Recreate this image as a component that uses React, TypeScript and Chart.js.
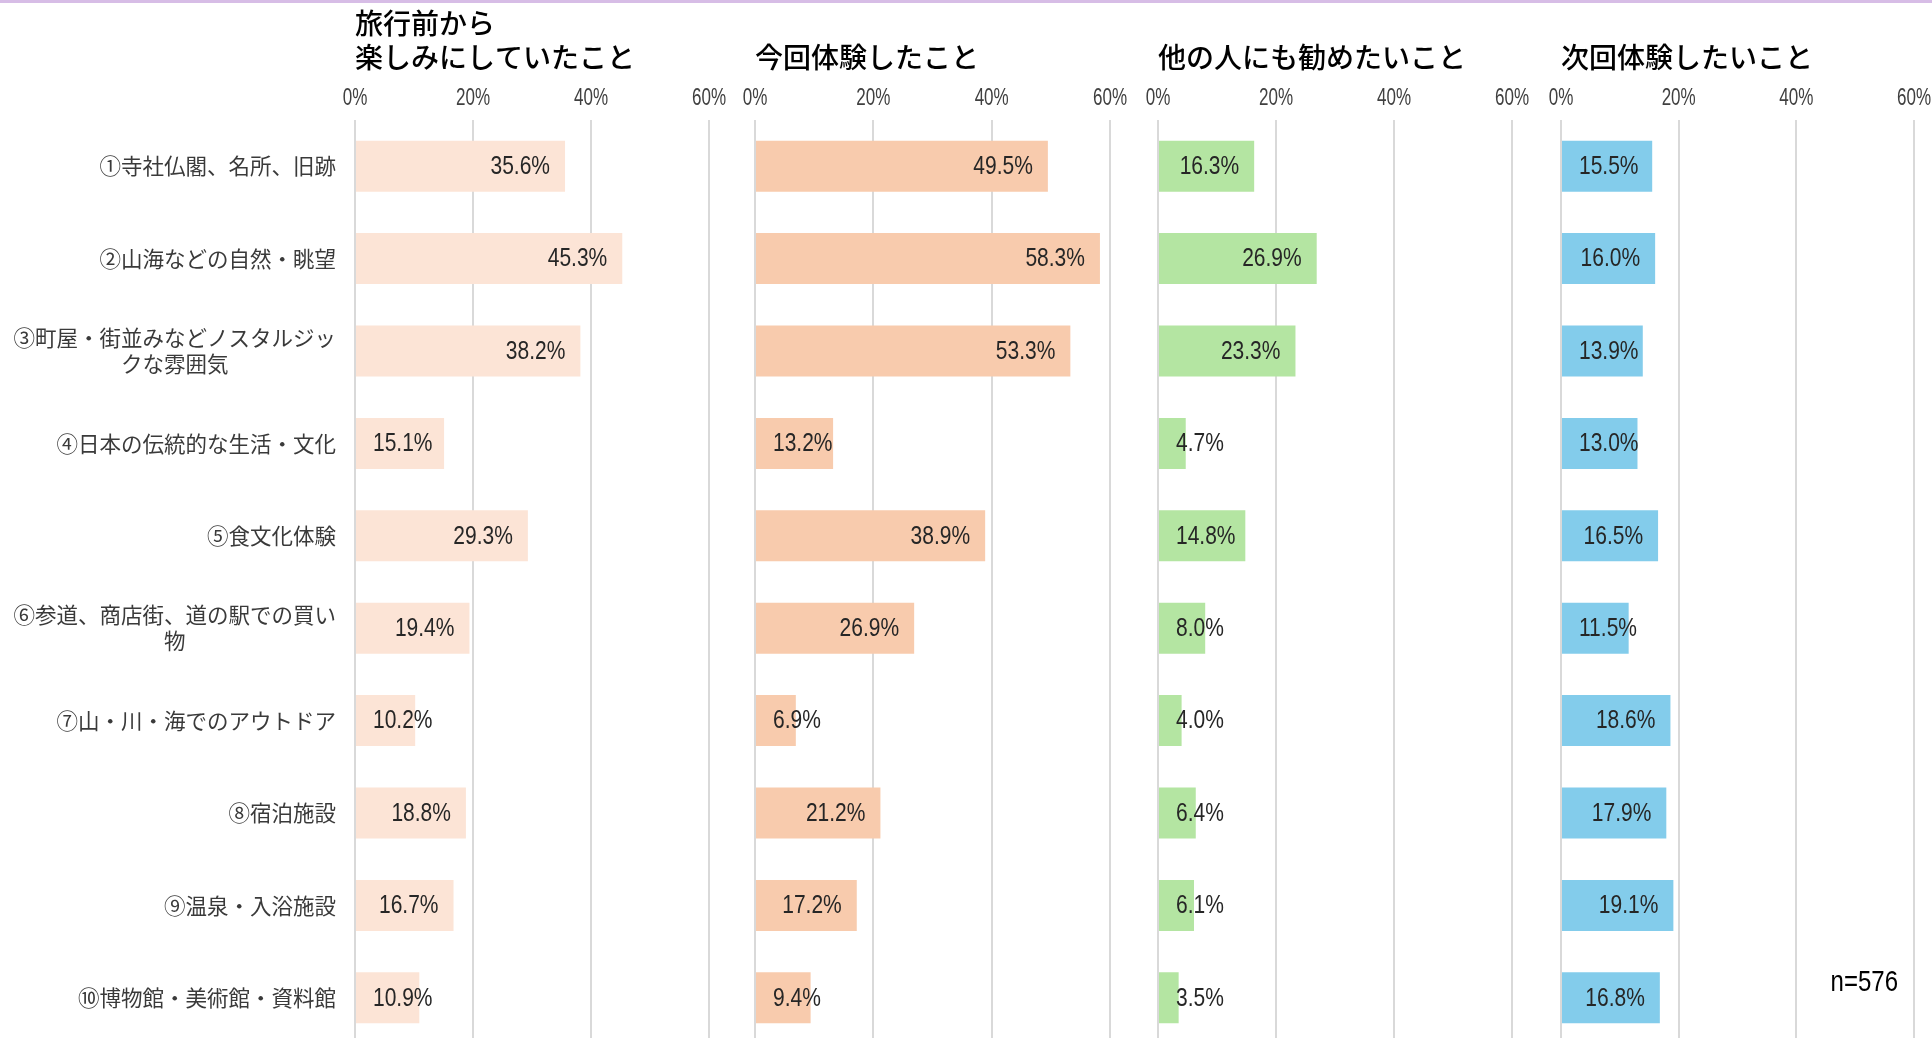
import React, { useEffect, useRef } from 'react';
import { Chart, registerables } from 'chart.js';

Chart.register(...registerables);

// ---- data ----
const categories: string[][] = [
  ['①寺社仏閣、名所、旧跡'],
  ['②山海などの自然・眺望'],
  ['③町屋・街並みなどノスタルジッ', 'クな雰囲気'],
  ['④日本の伝統的な生活・文化'],
  ['⑤食文化体験'],
  ['⑥参道、商店街、道の駅での買い', '物'],
  ['⑦山・川・海でのアウトドア'],
  ['⑧宿泊施設'],
  ['⑨温泉・入浴施設'],
  ['⑩博物館・美術館・資料館'],
];

const beforeTrip = [35.6, 45.3, 38.2, 15.1, 29.3, 19.4, 10.2, 18.8, 16.7, 10.9];
const experienced = [49.5, 58.3, 53.3, 13.2, 38.9, 26.9, 6.9, 21.2, 17.2, 9.4];
const recommend = [16.3, 26.9, 23.3, 4.7, 14.8, 8.0, 4.0, 6.4, 6.1, 3.5];
const nextTime = [15.5, 16.0, 13.9, 13.0, 16.5, 11.5, 18.6, 17.9, 19.1, 16.8];

const panelTitles: string[][] = [
  ['旅行前から', '楽しみにしていたこと'],
  ['', '今回体験したこと'],
  ['', '他の人にも勧めたいこと'],
  ['', '次回体験したいこと'],
];
const seriesList = [beforeTrip, experienced, recommend, nextTime];
const barColors = ['#fce4d6', '#f8cbad', '#b4e5a2', '#83cceb'];
const xTickMax = 60;
const xTickStep = 20;
const sampleNote = 'n=576';

// ---- layout ----
const AREA_LEFT = [355, 755, 1158, 1561];
const AREA_WIDTH = [354, 355, 354, 353];
const SIDE_PAD = 22;
const CANVAS_H = 1044;

const SANS = '"Liberation Sans", Arial, sans-serif';
const JP = '"Noto Sans CJK JP", "Noto Sans", sans-serif';

function canvasBox(i: number) {
  if (i === 0) return { left: 0, width: AREA_LEFT[0] + AREA_WIDTH[0] + SIDE_PAD };
  return { left: AREA_LEFT[i] - SIDE_PAD, width: AREA_WIDTH[i] + SIDE_PAD * 2 };
}

// draws horizontally-condensed text (the original uses a narrow font)
function narrowText(ctx: CanvasRenderingContext2D, text: string, x: number, y: number, align: CanvasTextAlign, sx: number) {
  ctx.save();
  ctx.translate(x, y);
  ctx.scale(sx, 1);
  ctx.textAlign = align;
  ctx.textBaseline = 'middle';
  ctx.fillText(text, 0, 0);
  ctx.restore();
}

const valueLabelPlugin = {
  id: 'valueLabels',
  afterDatasetsDraw(chart: any) {
    const ctx = chart.ctx;
    const meta = chart.getDatasetMeta(0);
    const data = chart.data.datasets[0].data as number[];
    const sx = 0.84;
    ctx.save();
    ctx.font = `25px ${SANS}`;
    ctx.fillStyle = '#262626';
    meta.data.forEach((bar: any, idx: number) => {
      const text = data[idx].toFixed(1) + '%';
      const w = ctx.measureText(text).width * sx;
      const x = Math.max(bar.base + 17, bar.x - 15 - w);
      narrowText(ctx, text, x, bar.y + 1, 'left', sx);
    });
    ctx.restore();
  },
};

const tickLabelPlugin = {
  id: 'tickLabels',
  afterDraw(chart: any) {
    const ctx = chart.ctx;
    const xs = chart.scales.x;
    ctx.save();
    ctx.font = `23px ${SANS}`;
    ctx.fillStyle = '#404040';
    xs.ticks.forEach((t: any) => {
      narrowText(ctx, t.value + '%', xs.getPixelForValue(t.value), chart.chartArea.top - 21, 'center', 0.74);
    });
    ctx.restore();
  },
};

const categoryLabelPlugin = {
  id: 'categoryLabels',
  afterDraw(chart: any) {
    const ctx = chart.ctx;
    const yScale = chart.scales.y;
    const right = chart.chartArea.left - 19;
    ctx.save();
    ctx.font = `21.5px ${JP}`;
    ctx.fillStyle = '#3a3a3a';
    ctx.textAlign = 'center';
    ctx.textBaseline = 'middle';
    const lh = 26;
    categories.forEach((lines, idx) => {
      const cy = yScale.getPixelForValue(idx);
      const blockW = Math.max(...lines.map((l) => ctx.measureText(l).width));
      const cx = right - blockW / 2;
      lines.forEach((l, k) => {
        ctx.fillText(l, cx, cy - ((lines.length - 1) * lh) / 2 + k * lh);
      });
    });
    ctx.restore();
  },
};

const notePlugin = {
  id: 'sampleNote',
  afterDraw(chart: any) {
    const ctx = chart.ctx;
    const yScale = chart.scales.y;
    ctx.save();
    ctx.font = `30px ${SANS}`;
    ctx.fillStyle = '#000';
    narrowText(ctx, sampleNote, chart.chartArea.right - 16, yScale.getPixelForValue(categories.length - 1) - 15, 'right', 0.8);
    ctx.restore();
  },
};

function makeConfig(i: number): any {
  const plugins: any[] = [valueLabelPlugin, tickLabelPlugin];
  if (i === 0) plugins.push(categoryLabelPlugin);
  if (i === 3) plugins.push(notePlugin);
  return {
    type: 'bar',
    data: {
      labels: categories,
      datasets: [
        {
          data: seriesList[i],
          backgroundColor: barColors[i],
          borderWidth: 0,
          categoryPercentage: 1,
          barPercentage: 0.552,
        },
      ],
    },
    plugins,
    options: {
      indexAxis: 'y',
      responsive: false,
      animation: false,
      layout: { padding: { left: i === 0 ? 0 : SIDE_PAD, right: SIDE_PAD, top: 0, bottom: 0 } },
      plugins: {
        legend: { display: false },
        tooltip: { enabled: false },
        title: {
          display: true,
          text: panelTitles[i],
          align: 'start',
          fullSize: false,
          color: '#000',
          font: { family: JP, size: 28, weight: '500', lineHeight: 34 / 28 },
          padding: { top: 6, bottom: 6 },
        },
      },
      scales: {
        x: {
          position: 'top',
          min: 0,
          max: xTickMax,
          ticks: {
            stepSize: xTickStep,
            display: false,
            callback: (v: any) => v + '%',
          },
          grid: { color: '#d9d9d9', lineWidth: 2, drawTicks: false },
          border: { display: false },
          afterFit: (scale: any) => {
            scale.height = 40;
          },
        },
        y: {
          display: i === 0,
          grid: { display: false },
          border: { display: false },
          ticks: { display: false },
          afterFit: (scale: any) => {
            scale.width = i === 0 ? AREA_LEFT[0] : 0;
          },
        },
      },
    },
  };
}

export default function App() {
  const canvases = useRef<(HTMLCanvasElement | null)[]>([]);

  useEffect(() => {
    const charts = seriesList.map((_, i) => new Chart(canvases.current[i] as HTMLCanvasElement, makeConfig(i)));
    return () => charts.forEach((c) => c.destroy());
  }, []);

  return (
    <div
      style={{
        position: 'absolute',
        left: 0,
        top: 0,
        width: 1932,
        height: 1038,
        overflow: 'hidden',
        background: '#ffffff',
      }}
    >
      <div
        style={{
          position: 'absolute',
          left: 0,
          top: 0,
          width: 1932,
          height: 3,
          background: '#d7bde6',
          zIndex: 2,
        }}
      />
      {seriesList.map((_, i) => {
        const box = canvasBox(i);
        return (
          <canvas
            key={i}
            ref={(el) => {
              canvases.current[i] = el;
            }}
            width={box.width}
            height={CANVAS_H}
            style={{ position: 'absolute', left: box.left, top: 0, width: box.width, height: CANVAS_H }}
          />
        );
      })}
    </div>
  );
}
